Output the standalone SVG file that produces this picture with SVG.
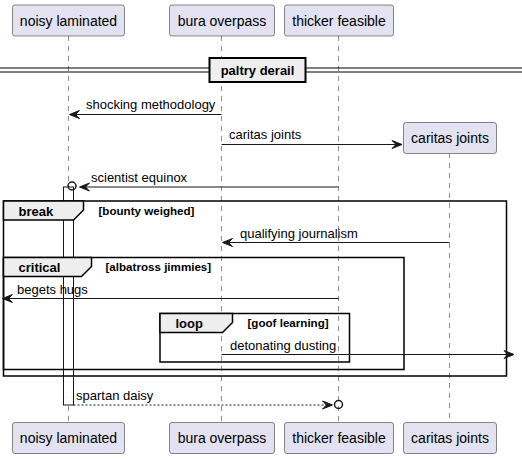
<svg xmlns="http://www.w3.org/2000/svg" width="522" height="459" viewBox="0 0 522 459">
<style>
.part{fill:#E2E2F0;stroke:#181818;stroke-width:0.5}
.ptxt{font-family:"Liberation Sans",Arial,sans-serif;font-size:14px;fill:#000}
.life{stroke:#181818;stroke-width:0.5;stroke-dasharray:5,5;fill:none}
.msg{stroke:#181818;stroke-width:1;fill:none}
.dash{stroke-dasharray:2,2}
.mtxt{font-family:"Liberation Sans",Arial,sans-serif;font-size:13px;fill:#000}
.frame{fill:none;stroke:#000;stroke-width:1.5}
.tab{fill:#EEEEEE;stroke:#000;stroke-width:1.5}
.ftxt{font-family:"Liberation Sans",Arial,sans-serif;font-size:13px;font-weight:bold;fill:#000}
.ctxt{font-family:"Liberation Sans",Arial,sans-serif;font-size:11.6px;font-weight:bold;fill:#000}
.head{fill:#181818;stroke:#181818;stroke-width:1}
.circ{fill:none;stroke:#181818;stroke-width:1.5}
</style>
<rect width="522" height="459" fill="#FFFFFF"/>
<g id="lifelines">
<line class="life" x1="68.5" y1="36" x2="68.5" y2="422"/>
<line class="life" x1="221.5" y1="36" x2="221.5" y2="422"/>
<line class="life" x1="338.5" y1="36" x2="338.5" y2="422"/>
<line class="life" x1="449.5" y1="153" x2="449.5" y2="422"/>
</g>
<g id="activation">
<rect x="63.5" y="187" width="10" height="218" fill="#FFFFFF" stroke="#181818" stroke-width="1"/>
</g>
<g id="divider">
<line x1="0" y1="68" x2="522" y2="68" stroke="#000" stroke-width="1"/>
<line x1="0" y1="72" x2="522" y2="72" stroke="#000" stroke-width="1"/>
<rect x="209.5" y="58" width="96" height="24" fill="#EEEEEE" stroke="#000" stroke-width="2"/>
<text class="ftxt" x="257.5" y="75" text-anchor="middle">paltry derail</text>
</g>
<g id="frames">
<rect class="frame" x="3.5" y="201" width="503" height="175"/>
<path class="tab" d="M3.5,201 L83.5,201 L83.5,210 L73.5,220 L3.5,220 Z"/>
<text class="ftxt" x="18.5" y="216">break</text>
<text class="ctxt" x="98.5" y="215">[bounty weighed]</text>
<rect class="frame" x="3.5" y="257.5" width="400.5" height="112"/>
<path class="tab" d="M3.5,257.5 L91.5,257.5 L91.5,266.5 L81.5,276.5 L3.5,276.5 Z"/>
<text class="ftxt" x="18.5" y="272">critical</text>
<text class="ctxt" x="105.5" y="271">[albatross jimmies]</text>
<rect class="frame" x="160" y="313.5" width="189.5" height="48.5"/>
<path class="tab" d="M160,313.5 L232.5,313.5 L232.5,322.5 L222.5,332.5 L160,332.5 Z"/>
<text class="ftxt" x="175.5" y="328">loop</text>
<text class="ctxt" x="247.5" y="327">[goof learning]</text>
</g>
<g id="connectors">
<line class="msg" x1="221.5" y1="114.5" x2="70" y2="114.5"/>
<polygon class="head" points="69.5,114.5 79.5,110.5 75.5,114.5 79.5,118.5"/>
<text class="mtxt" x="86" y="109">shocking methodology</text>
<line class="msg" x1="221.5" y1="144.5" x2="401" y2="144.5"/>
<polygon class="head" points="402,144.5 392,140.5 396,144.5 392,148.5"/>
<text class="mtxt" x="229" y="139">caritas joints</text>
<line class="msg" x1="338.5" y1="187" x2="80" y2="187"/>
<polygon class="head" points="79.5,187 89.5,183 85.5,187 89.5,191"/>
<circle class="circ" cx="72" cy="186" r="4"/>
<text class="mtxt" x="91" y="182">scientist equinox</text>
<line class="msg" x1="449.5" y1="242.5" x2="223" y2="242.5"/>
<polygon class="head" points="222.5,242.5 232.5,238.5 228.5,242.5 232.5,246.5"/>
<text class="mtxt" x="240" y="237.5">qualifying journalism</text>
<line class="msg" x1="338.5" y1="298.5" x2="3" y2="298.5"/>
<polygon class="head" points="2.5,298.5 12.5,294.5 8.5,298.5 12.5,302.5"/>
<text class="mtxt" x="17" y="293.5">begets hugs</text>
<line class="msg" x1="221.5" y1="354.5" x2="513" y2="354.5"/>
<polygon class="head" points="514,354.5 504,350.5 508,354.5 504,358.5"/>
<text class="mtxt" x="230" y="349.5">detonating dusting</text>
<line class="msg dash" x1="73.5" y1="405" x2="331" y2="405"/>
<polygon class="head" points="332.5,405 322.5,401 326.5,405 322.5,409"/>
<circle class="circ" cx="338.5" cy="404.5" r="4"/>
<text class="mtxt" x="76" y="400">spartan daisy</text>
</g>
<g id="p-noisy-top"><rect class="part" x="12.5" y="5" width="112" height="31" rx="2.5"/><text class="ptxt" x="68.5" y="25.5" text-anchor="middle">noisy laminated</text></g>
<g id="p-bura-top"><rect class="part" x="169.5" y="5" width="105" height="31" rx="2.5"/><text class="ptxt" x="222" y="25.5" text-anchor="middle">bura overpass</text></g>
<g id="p-thicker-top"><rect class="part" x="284.5" y="5" width="109" height="31" rx="2.5"/><text class="ptxt" x="339" y="25.5" text-anchor="middle">thicker feasible</text></g>
<g id="p-caritas-created"><rect class="part" x="403.5" y="122.5" width="93" height="31" rx="2.5"/><text class="ptxt" x="450" y="143" text-anchor="middle">caritas joints</text></g>
<g id="p-noisy-bottom"><rect class="part" x="12.5" y="422.5" width="112" height="31" rx="2.5"/><text class="ptxt" x="68.5" y="443" text-anchor="middle">noisy laminated</text></g>
<g id="p-bura-bottom"><rect class="part" x="169.5" y="422.5" width="105" height="31" rx="2.5"/><text class="ptxt" x="222" y="443" text-anchor="middle">bura overpass</text></g>
<g id="p-thicker-bottom"><rect class="part" x="284.5" y="422.5" width="109" height="31" rx="2.5"/><text class="ptxt" x="339" y="443" text-anchor="middle">thicker feasible</text></g>
<g id="p-caritas-bottom"><rect class="part" x="403.5" y="422.5" width="93" height="31" rx="2.5"/><text class="ptxt" x="450" y="443" text-anchor="middle">caritas joints</text></g>
</svg>
